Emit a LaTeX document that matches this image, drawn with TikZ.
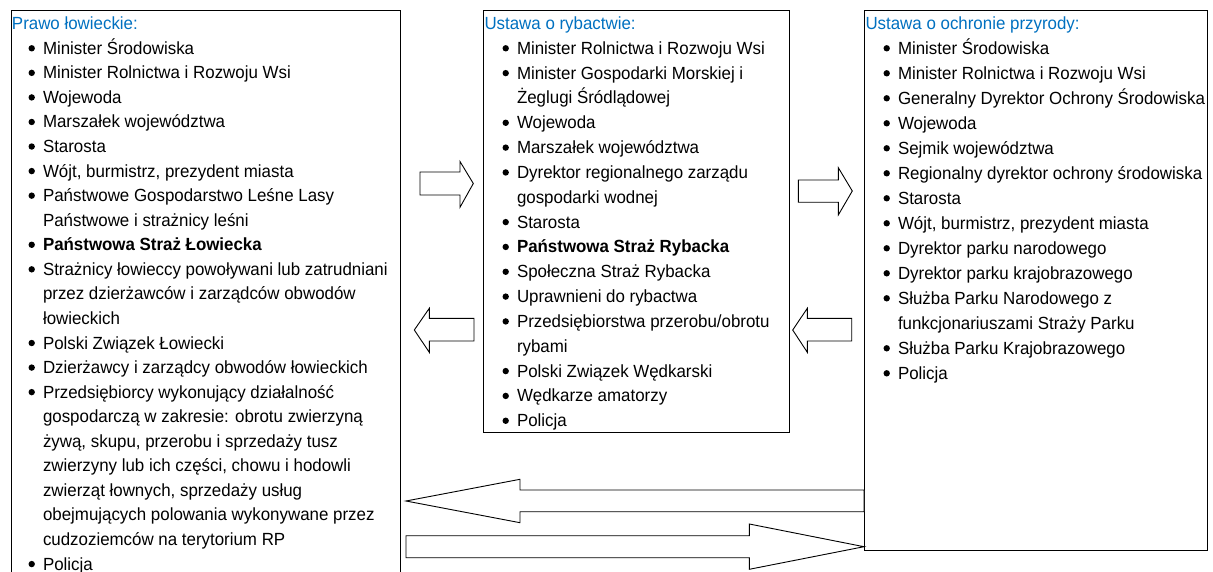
\documentclass[tikz,border=0pt]{standalone}
\usepackage{fontspec}
\setmainfont{Liberation Sans}[FakeStretch=0.96]
\definecolor{titleblue}{RGB}{0,112,192}
\tikzset{
  box/.style={draw=black, line width=1.1pt, fill=none},
  blk/.style={draw=black, line width=0.9pt, fill=white, line join=miter},
  dotb/.style={fill=black},
  ln/.style={anchor=base west, inner sep=0pt, outer sep=0pt, font=\fontsize{17.6}{22}\selectfont},
  lnt/.style={ln, text=titleblue},
  lnc/.style={ln},
  lnb/.style={ln},
  lnB/.style={ln, font=\fontsize{17.6}{22}\selectfont\bfseries},
}
\begin{document}
\begin{tikzpicture}[x=1pt, y=-1pt]
\useasboundingbox (0,0) rectangle (1213,572);
\clip (0,0) rectangle (1213,572);
% boxes
\node[box, anchor=north west, minimum width=389pt, minimum height=590pt, inner sep=0pt] (L) at (11,10) {};
\node[box, anchor=north west, minimum width=306pt, minimum height=422pt, inner sep=0pt] (M) at (483,10) {};
\node[box, anchor=north west, minimum width=343pt, minimum height=540pt, inner sep=0pt] (R) at (864,10) {};
% titles
\node[lnt] (Lt) at (12,29.3) {Prawo łowieckie:};
\node[lnt] (Mt) at (484.5,29.3) {Ustawa o rybactwie:};
\node[lnt] (Rt) at (865.5,29.3) {Ustawa o ochronie przyrody:};
% left list
\foreach \k/\t [count=\i] in {
 b/Minister Środowiska,
 b/Minister Rolnictwa i Rozwoju Wsi,
 b/Wojewoda,
 b/Marszałek województwa,
 b/Starosta,
 b/{Wójt, burmistrz, prezydent miasta},
 b/Państwowe Gospodarstwo Leśne Lasy,
 c/Państwowe i strażnicy leśni,
 B/Państwowa Straż Łowiecka,
 b/Strażnicy łowieccy powoływani lub zatrudniani,
 c/przez dzierżawców i zarządców obwodów,
 c/łowieckich,
 b/Polski Związek Łowiecki,
 b/Dzierżawcy i zarządcy obwodów łowieckich,
 b/Przedsiębiorcy wykonujący działalność,
 c/{gospodarczą w zakresie: obrotu zwierzyną},
 c/{żywą, skupu, przerobu i sprzedaży tusz},
 c/{zwierzyny lub ich części, chowu i hodowli},
 c/{zwierząt łownych, sprzedaży usług},
 c/obejmujących polowania wykonywane przez,
 c/cudzoziemców na terytorium RP,
 b/Policja}
 {\node[ln\k] (L\i) at (43,{54.3+24.56*(\i-1)}) {\t};
  \if\k c\else \fill[dotb] ([xshift=-11.3pt,yshift=6pt]L\i.base west) circle (3.2pt);\fi}
% middle list
\foreach \k/\t [count=\i] in {
 b/Minister Rolnictwa i Rozwoju Wsi,
 b/Minister Gospodarki Morskiej i,
 c/Żeglugi Śródlądowej,
 b/Wojewoda,
 b/Marszałek województwa,
 b/Dyrektor regionalnego zarządu,
 c/gospodarki wodnej,
 b/Starosta,
 B/Państwowa Straż Rybacka,
 b/Społeczna Straż Rybacka,
 b/Uprawnieni do rybactwa,
 b/{Przedsiębiorstwa przerobu\slash obrotu},
 c/rybami,
 b/Polski Związek Wędkarski,
 b/Wędkarze amatorzy,
 b/Policja}
 {\node[ln\k] (M\i) at (517,{54.3+24.83*(\i-1)}) {\t};
  \if\k c\else \fill[dotb] ([xshift=-11.3pt,yshift=6pt]M\i.base west) circle (3.2pt);\fi}
% right list
\foreach \k/\t [count=\i] in {
 b/Minister Środowiska,
 b/Minister Rolnictwa i Rozwoju Wsi,
 b/Generalny Dyrektor Ochrony Środowiska,
 b/Wojewoda,
 b/Sejmik województwa,
 b/Regionalny dyrektor ochrony środowiska,
 b/Starosta,
 b/{Wójt, burmistrz, prezydent miasta},
 b/Dyrektor parku narodowego,
 b/Dyrektor parku krajobrazowego,
 b/Służba Parku Narodowego z,
 c/funkcjonariuszami Straży Parku,
 b/Służba Parku Krajobrazowego,
 b/Policja}
 {\node[ln\k] (R\i) at (898,{54.3+25.0*(\i-1)}) {\t};
  \if\k c\else \fill[dotb] ([xshift=-11.3pt,yshift=6pt]R\i.base west) circle (3.2pt);\fi}
% block arrows
\draw[blk] (420,172) -- (460,172) -- (460,161.5) -- (473.3,183.5) -- (460,207.3) -- (460,195) -- (420,195) -- cycle;
\draw[blk] (414.3,330) -- (429.3,308.3) -- (429.3,318.3) -- (474,318.3) -- (474,341) -- (429.3,341) -- (429.3,352.3) -- cycle;
\draw[blk] (798.3,180) -- (838.3,180) -- (838.3,167.7) -- (852.3,191) -- (838.3,215) -- (838.3,202.3) -- (798.3,202.3) -- cycle;
\draw[blk] (792.7,330) -- (807.3,308.3) -- (807.3,318.3) -- (851.7,318.3) -- (851.7,341) -- (807.3,341) -- (807.3,352.3) -- cycle;
\draw[blk] (406,501) -- (520,479.3) -- (520,490) -- (864,490) -- (864,511.7) -- (520,511.7) -- (520,522.7) -- cycle;
\draw[blk] (406,535.7) -- (749.3,535.7) -- (749.3,524) -- (864,546.7) -- (749.3,569.3) -- (749.3,557.7) -- (406,557.7) -- cycle;
\end{tikzpicture}
\end{document}
